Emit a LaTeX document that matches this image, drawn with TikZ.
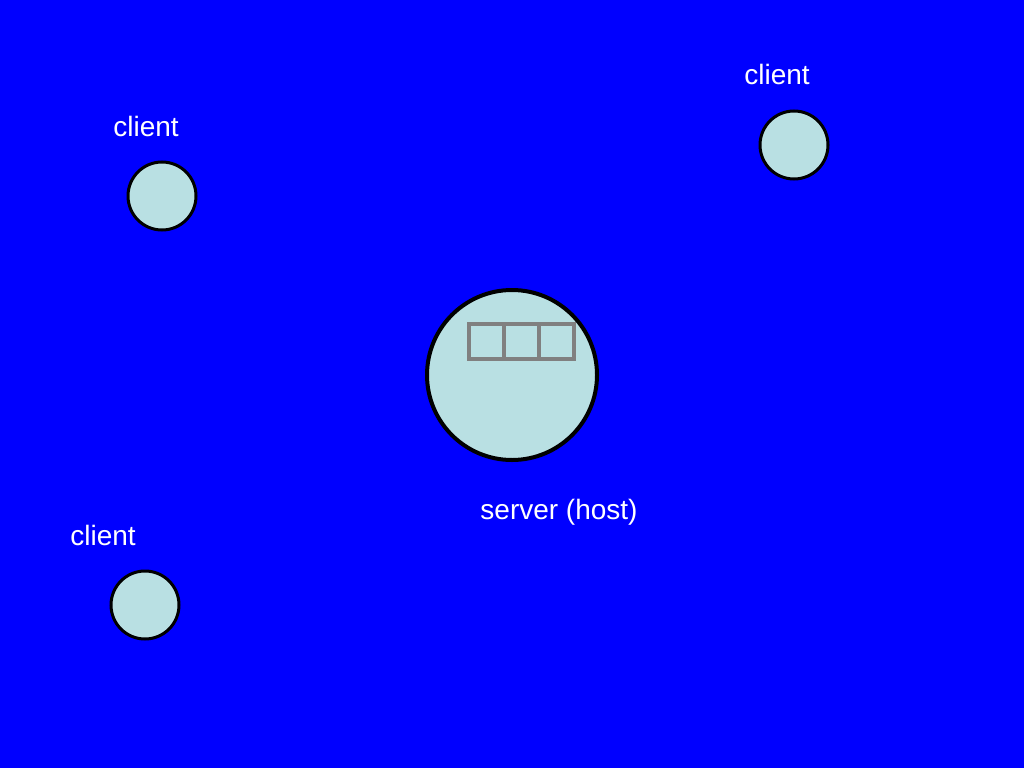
\documentclass[tikz,border=0pt]{standalone}
\usepackage{fontspec}
\setmainfont{Liberation Sans}
\usepackage{tikz}

\definecolor{slideblue}{RGB}{0,0,255}
\definecolor{hostfill}{RGB}{185,224,227}
\definecolor{slotgray}{RGB}{128,128,128}

\begin{document}
\begin{tikzpicture}[x=1pt, y=-1pt,
  host/.style={circle, draw=black, fill=hostfill, inner sep=0pt},
  slot/.style={rectangle, draw=slotgray, line width=4pt, minimum width=35pt, minimum height=35pt, inner sep=0pt},
  lbl/.style={text=white, font=\fontsize{28}{34}\selectfont}]

\fill[slideblue] (0,0) rectangle (1024,768);

\node[host, line width=4pt, minimum size=170pt] (server) at (512,375) {};
\node[slot] (q1) at (486,341) {};
\node[slot] (q2) at (521,341) {};
\node[slot] (q3) at (556,341) {};

\node[host, line width=3pt, minimum size=68pt] (c1) at (162,196) {};
\node[host, line width=3pt, minimum size=68pt] (c2) at (794,145) {};
\node[host, line width=3pt, minimum size=68pt] (c3) at (145,605) {};

\node[lbl] (l1) at (146,126) {client};
\node[lbl] (l2) at (777,74) {client};
\node[lbl] (l3) at (103,535) {client};
\node[lbl] (ls) at (559,512) {server (host)};

\end{tikzpicture}
\end{document}
